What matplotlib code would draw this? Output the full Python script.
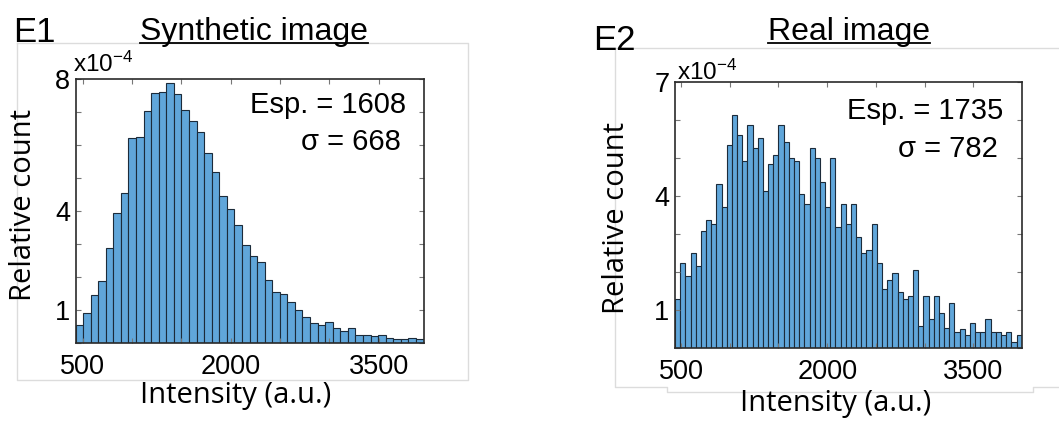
import numpy as np
import matplotlib
matplotlib.use("Agg")
import matplotlib.pyplot as plt
from matplotlib.lines import Line2D

plt.rcParams['font.family'] = ['Liberation Sans', 'DejaVu Sans']
plt.rcParams['mathtext.fontset'] = 'custom'
plt.rcParams['mathtext.rm'] = 'Liberation Sans'
plt.rcParams['mathtext.it'] = 'Liberation Sans:italic'
plt.rcParams['mathtext.default'] = 'regular'

# ---------------- data (relative count, units of 1e-4) ----------------
synthetic_counts = [0.54, 0.92, 1.44, 1.89, 2.89, 3.94, 4.56, 6.20, 6.23, 7.02,
                    7.57, 7.62, 7.89, 7.55, 7.06, 6.72, 6.40, 5.76, 5.17, 4.45,
                    4.07, 3.57, 2.96, 2.65, 2.46, 1.92, 1.56, 1.48, 1.23, 0.99,
                    0.79, 0.61, 0.56, 0.65, 0.45, 0.35, 0.45, 0.25, 0.25, 0.20,
                    0.23, 0.16, 0.13, 0.12, 0.16, 0.13]
synthetic_range = (425, 3956)

real_counts = [1.29, 2.24, 1.90, 2.50, 2.17, 3.10, 3.37, 3.26, 4.32, 3.71,
               5.34, 6.13, 5.61, 4.93, 5.87, 5.27, 5.53, 4.15, 4.84, 5.09,
               5.87, 5.43, 5.00, 4.92, 4.05, 3.79, 5.26, 5.00, 4.38, 3.71,
               5.00, 3.19, 3.79, 3.26, 3.79, 2.92, 2.51, 2.58, 3.26, 2.24,
               1.55, 1.81, 1.97, 1.47, 1.29, 1.38, 2.06, 0.59, 1.38, 0.77,
               1.38, 0.93, 0.53, 1.19, 0.42, 0.51, 0.34, 0.67, 0.42, 0.42,
               0.77, 0.42, 0.42, 0.34, 0.42, 0.17, 0.34]
real_range = (438, 3996)

titles = ["Synthetic image", "Real image"]
panel_letters = ["E1", "E2"]
esp_values = [1608, 1735]
sigma_values = [668, 782]
y_tops = [8, 7]
y_labelled = [[1, 4, 8], [1, 4, 7]]
x_ticks = [500, 1000, 1500, 2000, 2500, 3000, 3500]
x_labelled = [500, 2000, 3500]

# ---------------- figure ----------------
W, H = 1059, 421
fig = plt.figure(figsize=(W / 100, H / 100), dpi=100)


def fx(x):
    return x / W


def fy(y):
    return 1 - y / H


# decorative light-gray frames (export artefacts)
frame_col = '#dcdcdc'
fig.add_artist(Line2D([fx(16.7), fx(468), fx(468), fx(16.7), fx(16.7)],
                      [fy(43.3), fy(43.3), fy(380), fy(380), fy(43.3)],
                      transform=fig.transFigure, color=frame_col, lw=1))
fig.add_artist(Line2D([fx(1059), fx(615), fx(615), fx(666.7), fx(666.7),
                       fx(1033), fx(1033), fx(1059)],
                      [fy(47.7), fy(47.7), fy(386.7), fy(386.7), fy(391.7),
                       fy(391.7), fy(386.7), fy(386.7)],
                      transform=fig.transFigure, color=frame_col, lw=1))

axes_px = [(75.5, 79.0, 423.5, 343.0), (675.0, 82.3, 1021.7, 348.3)]
panels = [(synthetic_counts, synthetic_range), (real_counts, real_range)]

face = '#60a6da'
edge = '#1c2b3a'
spine_col = '#2a2a2a'

ylabel_pos = [(24, 205), (616, 217.5)]
xlabel_pos = [(235.5, 396), (835.5, 404)]
title_pos = [(254, 40), (849, 40)]
letter_pos = [(13, 41.7), (593, 50)]
sci_pos = [(73, 72), (677, 79.5)]
esp_pos = [((406, 113.3), (401, 150)), ((1003.3, 119), (998.3, 157.3))]

for i, (counts, rng) in enumerate(panels):
    l, t, r, b = axes_px[i]
    ax = fig.add_axes([fx(l), fy(b), fx(r - l), (b - t) / H])
    n = len(counts)
    edges = np.linspace(rng[0], rng[1], n + 1)
    ax.bar(edges[:-1], counts, width=np.diff(edges), align='edge',
           color=face, edgecolor=edge, linewidth=0.8)
    ax.set_xlim(rng[0], rng[1])
    ax.set_ylim(0, y_tops[i])

    ax.set_xticks(x_ticks)
    ax.set_xticklabels([str(v) if v in x_labelled else '' for v in x_ticks])
    yt = list(range(0, y_tops[i] + 1))
    ax.set_yticks(yt)
    ax.set_yticklabels([str(v) if v in y_labelled[i] else '' for v in yt])

    ax.tick_params(direction='in', length=3.5, width=0.8, color='#777777',
                   top=True, right=True, labelsize=19.5, pad=4)
    ax.tick_params(axis='x', pad=8)
    for sp in ax.spines.values():
        sp.set_color(spine_col)
        sp.set_linewidth(1.2)

    # annotation
    (ex, ey), (sx, sy) = esp_pos[i]
    fig.text(fx(ex), fy(ey), f"Esp. = {esp_values[i]}", ha='right',
             va='baseline', fontsize=21)
    fig.text(fx(sx), fy(sy), f"\u03c3 = {sigma_values[i]}", ha='right',
             va='baseline', fontsize=21)

    # scale factor
    fig.text(fx(sci_pos[i][0]), fy(sci_pos[i][1]), r'x10$^{-4}$',
             ha='left', va='baseline', fontsize=17.5)

    # axis labels
    fig.text(fx(ylabel_pos[i][0]), fy(ylabel_pos[i][1]), 'Relative count',
             rotation=90, ha='center', va='center', fontsize=21,
             family=['Open Sans', 'DejaVu Sans'])
    fig.text(fx(xlabel_pos[i][0]), fy(xlabel_pos[i][1]), 'Intensity (a.u.)',
             ha='center', va='center', fontsize=21,
             family=['Open Sans', 'DejaVu Sans'])

    # panel letter and title
    fig.text(fx(letter_pos[i][0]), fy(letter_pos[i][1]), panel_letters[i],
             ha='left', va='baseline', fontsize=25)
    fig.text(fx(title_pos[i][0]), fy(title_pos[i][1]), titles[i],
             ha='center', va='baseline', fontsize=23)

# underline the titles
fig.canvas.draw()
renderer = fig.canvas.get_renderer()
for txt in fig.texts:
    if txt.get_text() in titles:
        bb = txt.get_window_extent(renderer)
        x0, x1 = bb.x0, bb.x1
        yb = txt.get_position()[1] * H - 3.0
        fig.add_artist(Line2D([x0 / W, x1 / W], [yb / H, yb / H],
                              transform=fig.transFigure, color='black',
                              lw=1.3))

fig.savefig('out.png', dpi=100)
